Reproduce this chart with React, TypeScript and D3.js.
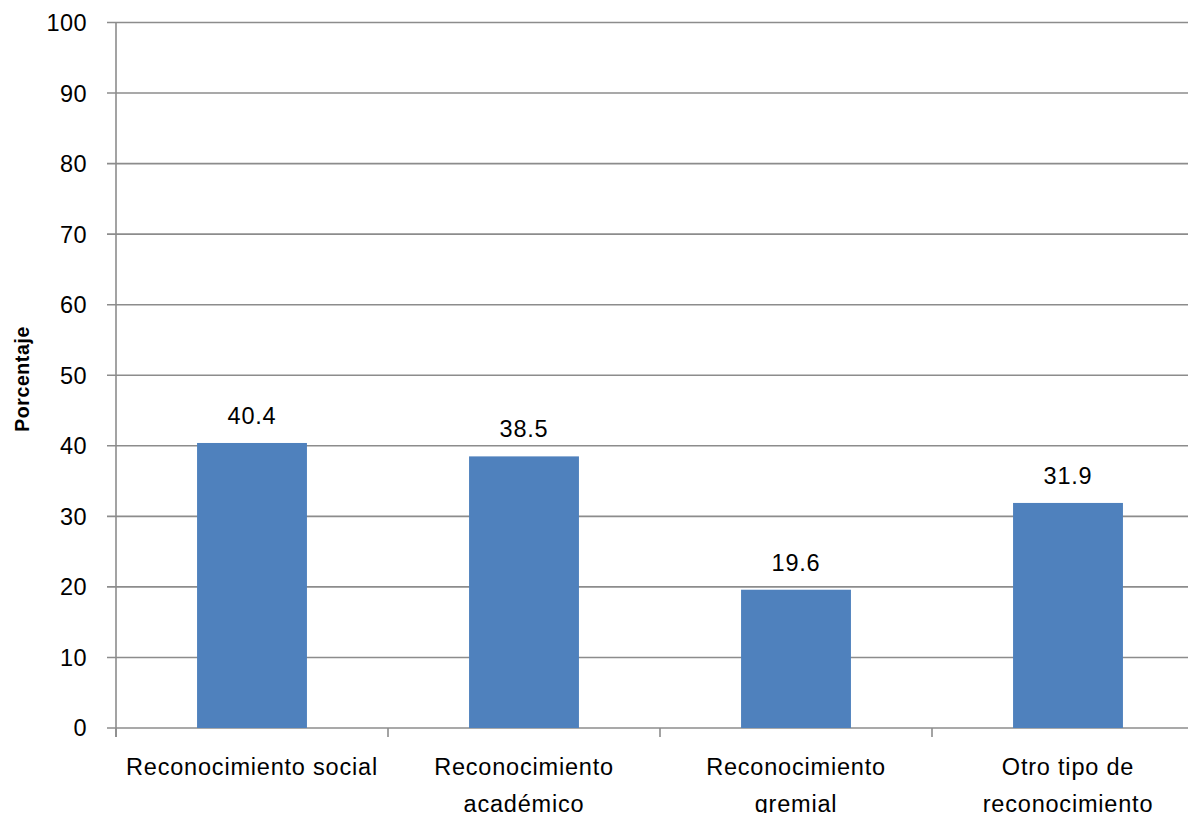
import React from "react";
import * as d3 from "d3";

const categories: string[][] = [
  ["Reconocimiento social"],
  ["Reconocimiento", "académico"],
  ["Reconocimiento", "gremial"],
  ["Otro tipo de", "reconocimiento"],
];
const values: number[] = [40.4, 38.5, 19.6, 31.9];
const yTicks: number[] = [0, 10, 20, 30, 40, 50, 60, 70, 80, 90, 100];
const yLabel = "Porcentaje";

const W = 1188;
const H = 813;
const left = 116;
const right = 1204;
const top = 22.5;
const bottom = 728;
const font = "'Liberation Sans', Arial, sans-serif";

export default function App() {
  const keys = categories.map((_, i) => String(i));
  const x = d3.scaleBand<string>().domain(keys).range([left, right]).paddingInner(0).paddingOuter(0);
  const y = d3.scaleLinear().domain([0, 100]).range([bottom, top]);
  const bw = x.bandwidth() * 0.404;
  const gridColor = "#8c8c8c";
  return (
    <svg width={W} height={H} style={{ position: "absolute", left: 0, top: 0, display: "block" }}>
      <rect x={0} y={0} width={W} height={H} fill="#fff" />
      {yTicks.map((t) => (
        <g key={t}>
          <line x1={left - 9} x2={right} y1={y(t)} y2={y(t)} stroke={gridColor} strokeWidth={1.6} />
          <text x={87} y={y(t)} dy="0.36em" textAnchor="end" fontFamily={font} fontSize={23.5} letterSpacing={0.4} fill="#000">
            {t}
          </text>
        </g>
      ))}
      <line x1={left} x2={left} y1={top} y2={bottom + 9} stroke={gridColor} strokeWidth={1.6} />
      {keys.map((k) => (
        <line key={"t" + k} x1={x(k) as number} x2={x(k) as number} y1={bottom} y2={bottom + 9} stroke={gridColor} strokeWidth={1.6} />
      ))}
      {values.map((v, i) => {
        const cx = (x(keys[i]) as number) + x.bandwidth() / 2;
        return (
          <g key={"b" + i}>
            <rect x={cx - bw / 2} y={y(v)} width={bw} height={bottom - y(v)} fill="#4F81BD" />
            <text x={cx} y={y(v) - 19} textAnchor="middle" fontFamily={font} fontSize={23.5} letterSpacing={0.8} fill="#000">
              {v.toFixed(1)}
            </text>
          </g>
        );
      })}
      {categories.map((lines, i) => {
        const cx = (x(keys[i]) as number) + x.bandwidth() / 2;
        return (
          <text key={"c" + i} x={cx} textAnchor="middle" fontFamily={font} fontSize={23.5} letterSpacing={0.8} fill="#000">
            {lines.map((ln, j) => (
              <tspan key={j} x={cx} y={775 + j * 37}>
                {ln}
              </tspan>
            ))}
          </text>
        );
      })}
      <text
        transform={`translate(29, 379) rotate(-90)`}
        textAnchor="middle"
        fontFamily={font}
        fontWeight="bold"
        fontSize={19.5}
        letterSpacing={0.6}
        fill="#000"
      >
        {yLabel}
      </text>
    </svg>
  );
}
